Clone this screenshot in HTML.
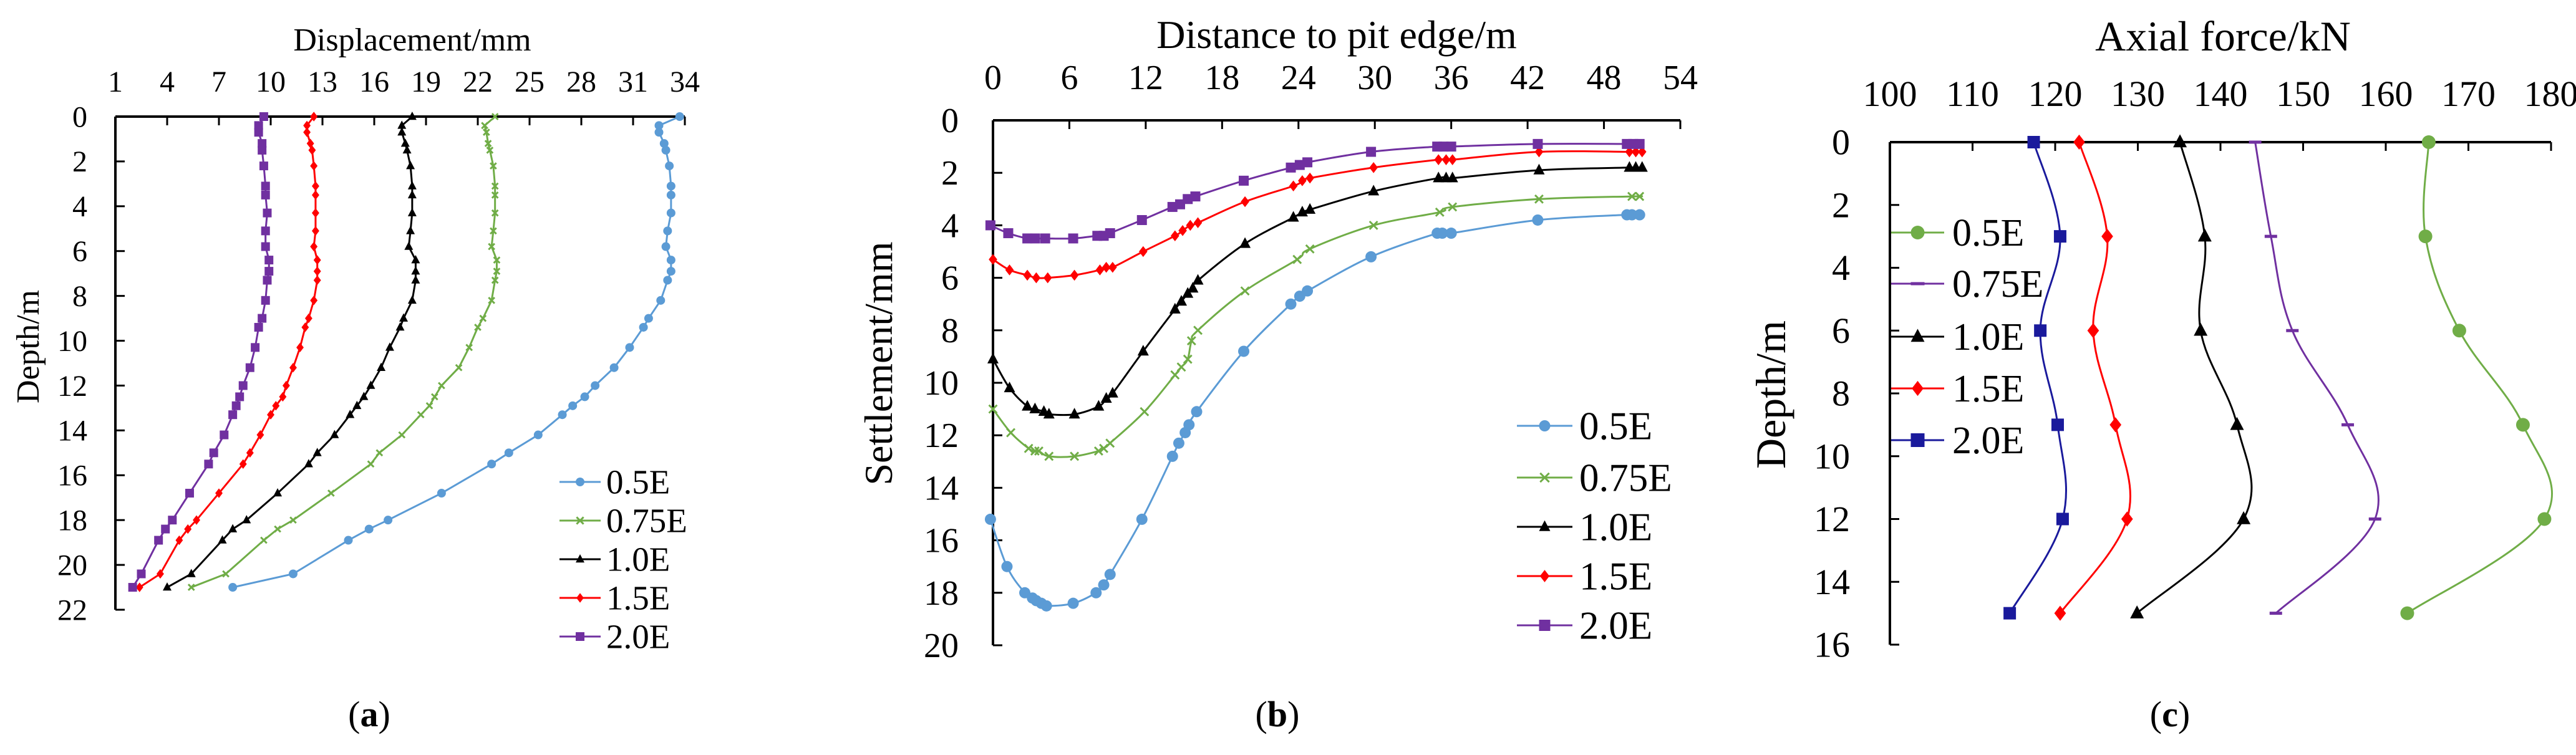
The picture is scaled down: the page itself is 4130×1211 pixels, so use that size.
<!DOCTYPE html>
<html><head><meta charset="utf-8"><style>
html,body{margin:0;padding:0;background:#fff;}
svg{display:block;font-family:"Liberation Serif",serif;}
</style></head><body>
<svg id="fig" width="4130" height="1211" viewBox="0 0 4130 1211" xmlns="http://www.w3.org/2000/svg"></svg>
<script>
// ---------- Panel (a) data: displacement (x) vs depth (y) ----------
const aTicksX = [1,4,7,10,13,16,19,22,25,28,31,34];
const aTicksY = [0,2,4,6,8,10,12,14,16,18,20,22];
const aDepth = [0,0.4,0.7,1.2,1.5,2.2,3.1,3.5,4.3,5.1,5.8,6.4,6.9,7.3,8.2,9.0,9.4,10.3,11.2,12.0,12.5,12.9,13.3,14.2,15.0,15.5,16.8,18.0,18.4,18.9,20.4,21.0];
const a05 = [33.7,32.5,32.5,32.8,32.9,33.1,33.2,33.2,33.2,33.0,32.9,33.2,33.2,33.0,32.6,31.9,31.6,30.8,29.9,28.8,28.2,27.5,26.9,25.5,23.8,22.8,19.9,16.8,15.7,14.5,11.3,7.8];
const a075 = [23.0,22.4,22.5,22.6,22.7,22.9,23.0,23.0,23.0,22.9,22.8,23.1,23.1,23.0,22.8,22.3,22.0,21.5,20.9,19.9,19.5,19.2,18.7,17.6,16.3,15.8,13.5,11.3,10.4,9.6,7.4,5.4];
const a10 = [18.2,17.6,17.6,17.8,17.9,18.1,18.2,18.2,18.2,18.1,18.0,18.4,18.4,18.4,18.2,17.7,17.5,16.9,16.4,15.8,15.4,15.0,14.6,13.7,12.7,12.2,10.4,8.6,7.8,7.2,5.4,4.0];
const a15 = [12.5,12.1,12.1,12.3,12.4,12.5,12.6,12.6,12.6,12.6,12.5,12.7,12.7,12.7,12.5,12.2,12.0,11.7,11.3,10.9,10.7,10.3,10.0,9.4,8.8,8.4,7.0,5.7,5.2,4.7,3.6,2.4];
const a20 = [9.6,9.3,9.3,9.5,9.5,9.6,9.7,9.7,9.8,9.7,9.7,9.9,9.9,9.8,9.7,9.5,9.3,9.1,8.8,8.4,8.2,8.0,7.8,7.3,6.7,6.4,5.3,4.3,3.9,3.5,2.5,2.0];

// ---------- Panel (b) data: distance (x) vs settlement (y) ----------
const bTicksX = [0,6,12,18,24,30,36,42,48,54];
const bTicksY = [0,2,4,6,8,10,12,14,16,18,20];
const b05x = [-0.2,1.1,2.5,3.1,3.4,3.8,4.2,6.3,8.1,8.7,9.2,11.7,14.1,14.6,15.1,15.4,16.0,19.7,23.4,24.1,24.7,29.7,34.9,35.3,36.0,42.8,49.8,50.2,50.8];
const b05y = [15.2,17.0,18.0,18.2,18.3,18.4,18.5,18.4,18.0,17.7,17.3,15.2,12.8,12.3,11.9,11.6,11.1,8.8,7.0,6.7,6.5,5.2,4.3,4.3,4.3,3.8,3.6,3.6,3.6];
const b075x = [0,1.4,2.8,3.3,3.6,4.4,6.4,8.3,8.7,9.2,11.9,14.3,14.8,15.3,15.6,16.1,19.8,23.9,24.9,29.9,35.1,36.1,42.9,50.2,50.8];
const b075y = [11.0,11.9,12.5,12.6,12.6,12.8,12.8,12.6,12.5,12.3,11.1,9.7,9.4,9.1,8.4,8.0,6.5,5.3,4.9,4.0,3.5,3.3,3.0,2.9,2.9];
const b10x = [0,1.3,2.7,3.3,4.0,4.4,6.4,8.3,8.9,9.4,11.8,14.3,14.8,15.3,15.7,16.1,19.8,23.6,24.3,24.9,29.9,35.0,35.6,36.1,42.9,50.0,50.5,51.0];
const b10y = [9.1,10.2,10.9,11.0,11.1,11.2,11.2,10.9,10.6,10.4,8.8,7.2,6.9,6.6,6.4,6.1,4.7,3.7,3.5,3.4,2.7,2.2,2.2,2.2,1.9,1.8,1.8,1.8];
const b15x = [0,1.3,2.7,3.4,4.3,6.4,8.4,8.9,9.4,11.8,14.3,14.9,15.5,16.1,19.8,23.6,24.3,24.9,29.9,35.0,35.6,36.1,42.9,50.0,50.5,51.0];
const b15y = [5.3,5.7,5.9,6.0,6.0,5.9,5.7,5.6,5.6,5.0,4.4,4.2,4.0,3.9,3.1,2.5,2.3,2.2,1.8,1.5,1.5,1.5,1.2,1.2,1.2,1.2];
const b20x = [-0.2,1.2,2.7,3.3,4.1,6.3,8.2,8.7,9.2,11.7,14.1,14.7,15.3,15.9,19.7,23.4,24.1,24.7,29.7,34.9,35.4,36.0,42.8,49.8,50.3,50.8];
const b20y = [4.0,4.3,4.5,4.5,4.5,4.5,4.4,4.4,4.3,3.8,3.3,3.2,3.0,2.9,2.3,1.8,1.7,1.6,1.2,1.0,1.0,1.0,0.9,0.9,0.9,0.9];

// ---------- Panel (c) data: axial force (x) vs depth (y) ----------
const cTicksX = [100,110,120,130,140,150,160,170,180];
const cTicksY = [0,2,4,6,8,10,12,14,16];
const cDepth = [0,3,6,9,12,15];
const c05 = [165.2,164.8,168.9,176.6,179.2,162.6];
const c075 = [144.2,146.1,148.7,155.4,158.7,146.7];
const c10 = [135.1,138.1,137.6,142.0,142.8,129.9];
const c15 = [122.9,126.3,124.6,127.3,128.7,120.6];
const c20 = [117.4,120.6,118.2,120.3,120.9,114.5];

const NS = "http://www.w3.org/2000/svg";
const svg = document.getElementById('fig');
function el(tag, attrs, parent){
  const e = document.createElementNS(NS, tag);
  for (const k in attrs) e.setAttribute(k, attrs[k]);
  (parent||svg).appendChild(e);
  return e;
}
function txt(s, attrs, parent){ const t = el('text', attrs, parent); t.textContent = s; return t; }

function scale(d0,d1,r0,r1){ return v => r0 + (v-d0)/(d1-d0)*(r1-r0); }

function smoothPath(pts){
  if (pts.length<2) return '';
  let d = `M${pts[0][0]},${pts[0][1]}`;
  for (let i=0;i<pts.length-1;i++){
    const p0 = pts[i-1]||pts[i], p1=pts[i], p2=pts[i+1], p3=pts[i+2]||pts[i+1];
    const t=0.18;
    const c1=[p1[0]+(p2[0]-p0[0])*t, p1[1]+(p2[1]-p0[1])*t];
    const c2=[p2[0]-(p3[0]-p1[0])*t, p2[1]-(p3[1]-p1[1])*t];
    d += ` C${c1[0]},${c1[1]} ${c2[0]},${c2[1]} ${p2[0]},${p2[1]}`;
  }
  return d;
}
function linePath(pts){ return pts.map((p,i)=>(i?'L':'M')+p[0]+','+p[1]).join(' '); }

function marker(g, type, x, y, r, color){
  let m;
  if (type==='circle') m = el('circle',{cx:x,cy:y,r:r,fill:color},g);
  else if (type==='square') m = el('rect',{x:x-r,y:y-r,width:2*r,height:2*r,fill:color},g);
  else if (type==='triangle') m = el('polygon',{points:`${x},${y-r*1.15} ${x-r},${y+r*0.75} ${x+r},${y+r*0.75}`,fill:color},g);
  else if (type==='diamond') m = el('polygon',{points:`${x},${y-r*1.1} ${x+r*0.85},${y} ${x},${y+r*1.1} ${x-r*0.85},${y}`,fill:color},g);
  else if (type==='cross') m = el('path',{d:`M${x-r*0.8},${y-r*0.8} L${x+r*0.8},${y+r*0.8} M${x+r*0.8},${y-r*0.8} L${x-r*0.8},${y+r*0.8}`,stroke:color,'stroke-width':3,fill:'none'},g);
  else if (type==='dash') m = el('rect',{x:x-r,y:y-2.5,width:2*r,height:5,fill:color},g);
  return m;
}

function axes(p){
  const g = el('g',{});
  
  
  el('line',{x1:p.x0,y1:p.y0,x2:p.x1,y2:p.y0,stroke:'#000','stroke-width':4},g);
  el('line',{x1:p.x0,y1:p.y0,x2:p.x0,y2:p.y1,stroke:'#000','stroke-width':4},g);
  p.ticksX.forEach(v=>{
    const x = p.sx(v);
    el('line',{x1:x,y1:p.y0,x2:x,y2:p.y0+14,stroke:'#000','stroke-width':3},g);
    const t = txt(String(v),{x:x,y:p.xLabY,'text-anchor':'middle','font-size':p.tickFs},g);
    
    
  });
  p.ticksY.forEach(v=>{
    const y = p.sy(v);
    el('line',{x1:p.x0,y1:y,x2:p.x0+15,y2:y,stroke:'#000','stroke-width':3},g);
    const t = txt(String(v),{x:p.yLabX,y:y+p.tickFs*0.34,'text-anchor':'end','font-size':p.tickFs},g);
    
    
  });
  const tt = txt(p.xTitle,{x:p.xTitleX,y:p.xTitleY,'text-anchor':'middle','font-size':p.titleFs},g);
  
  
  const yt = txt(p.yTitle,{x:0,y:0,'text-anchor':'middle','font-size':p.titleFs,transform:`translate(${p.yTitleX},${p.yTitleY}) rotate(-90)`},g);
  
  
  const cap = el('text',{x:p.capX,y:1165,'text-anchor':'middle','font-size':58},g);
  
  
  const s1 = el('tspan',{},cap); s1.textContent='(';
  const s2 = el('tspan',{'font-weight':'bold'},cap); s2.textContent=p.cap;
  const s3 = el('tspan',{},cap); s3.textContent=')';
}

function series(p, name, xs, ys, color, mtype, r, smooth){
  const g = el('g',{});
  
  
  const pts = xs.map((v,i)=>[p.sx(v), p.sy(ys[i])]);
  el('path',{d: smooth?smoothPath(pts):linePath(pts), fill:'none', stroke:color,'stroke-width':3},g);
  pts.forEach(pt=>{
    const m = marker(g, mtype, pt[0], pt[1], r, color);
    
    
  });
}

function legend(p, entries, lx0, lx1, tx, ys, fs, r, extra){
  const g = el('g',{});
  
  
  entries.forEach((e,i)=>{
    const eg = el('g',{},g);
    
    
    el('line',{x1:lx0,y1:ys[i],x2:lx1,y2:ys[i],stroke:e[1],'stroke-width':3},eg);
    marker(eg, e[2], (lx0+lx1)/2, ys[i], r, e[1]);
    txt(e[0],{x:tx,y:ys[i]+fs*0.34,'font-size':fs,textLength:extra?extra[i]:null},eg);
  });
}

// ---------- Panel (a) ----------
const pa = {name:'panel-a', x0:185,x1:1098,y0:187,y1:978, ticksX:aTicksX, ticksY:aTicksY,
  tickFs:48, xLabY:147, yLabX:140, titleFs:52, xTitle:'Displacement/mm', xTitleX:661, xTitleY:81,
  yTitle:'Depth/m', yTitleX:62, yTitleY:556, capX:592, cap:'a'};
pa.sx = scale(1,34,pa.x0,pa.x1); pa.sy = scale(0,22,pa.y0,pa.y1);
axes(pa);
series(pa,'0.5E',a05,aDepth,'#5B9BD5','circle',7,false);
series(pa,'0.75E',a075,aDepth,'#70AD47','cross',6,false);
series(pa,'1.0E',a10,aDepth,'#000000','triangle',7,false);
series(pa,'1.5E',a15,aDepth,'#FF0000','diamond',7,false);
series(pa,'2.0E',a20,aDepth,'#7030A0','square',7,false);
legend(pa,[['0.5E','#5B9BD5','circle'],['0.75E','#70AD47','cross'],['1.0E','#000','triangle'],['1.5E','#FF0000','diamond'],['2.0E','#7030A0','square']],
  897,963,972,[773,835,897,959,1021],55,7);

// ---------- Panel (b) ----------
const pb = {name:'panel-b', x0:1592,x1:2694,y0:193,y1:1035, ticksX:bTicksX, ticksY:bTicksY,
  tickFs:56, xLabY:143, yLabX:1537, titleFs:64, xTitle:'Distance to pit edge/m', xTitleX:2143, xTitleY:77,
  yTitle:'Settlement/mm', yTitleX:1430, yTitleY:583, capX:2048, cap:'b'};
pb.sx = scale(0,54,pb.x0,pb.x1); pb.sy = scale(0,20,pb.y0,pb.y1);
axes(pb);
series(pb,'0.5E',b05x,b05y,'#5B9BD5','circle',9,true);
series(pb,'0.75E',b075x,b075y,'#70AD47','cross',8,true);
series(pb,'1.0E',b10x,b10y,'#000000','triangle',9,true);
series(pb,'1.5E',b15x,b15y,'#FF0000','diamond',8,true);
series(pb,'2.0E',b20x,b20y,'#7030A0','square',8,true);
legend(pb,[['0.5E','#5B9BD5','circle'],['0.75E','#70AD47','cross'],['1.0E','#000','triangle'],['1.5E','#FF0000','diamond'],['2.0E','#7030A0','square']],
  2432,2521,2532,[683,766,845,924,1003],63,9);

// ---------- Panel (c) ----------
const pc = {name:'panel-c', x0:3030,x1:4090,y0:228,y1:1034, ticksX:cTicksX, ticksY:cTicksY,
  tickFs:58, xLabY:170, yLabX:2966, titleFs:68, xTitle:'Axial  force/kN', xTitleX:3564, xTitleY:81,
  yTitle:'Depth/m', yTitleX:2862, yTitleY:633, capX:3479, cap:'c'};
pc.sx = scale(100,180,pc.x0,pc.x1); pc.sy = scale(0,16,pc.y0,pc.y1);
axes(pc);
series(pc,'0.5E',c05,cDepth,'#70AD47','circle',11,true);
series(pc,'0.75E',c075,cDepth,'#7030A0','dash',10,true);
series(pc,'1.0E',c10,cDepth,'#000000','triangle',11,true);
series(pc,'1.5E',c15,cDepth,'#FF0000','diamond',11,true);
series(pc,'2.0E',c20,cDepth,'#1A1A9C','square',10,true);
legend(pc,[['0.5E','#70AD47','circle'],['0.75E','#7030A0','dash'],['1.0E','#000','triangle'],['1.5E','#FF0000','diamond'],['2.0E','#1A1A9C','square']],
  3032,3117,3130,[373,455,540,623,706],62,11);
</script>
</body></html>
